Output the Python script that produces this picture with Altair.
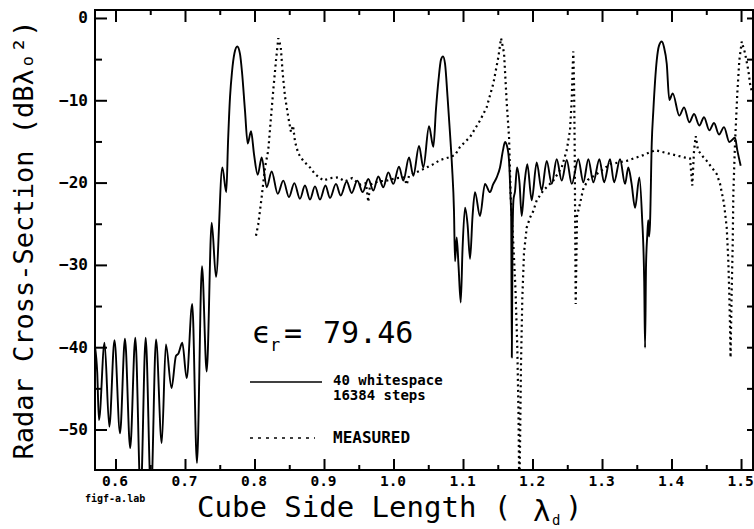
import altair as alt
import pandas as pd

# ---- computed curve: "40 whitespace, 16384 steps" (solid) ----
calc_x = [0.5700, 0.5730, 0.5755, 0.5835, 0.5904, 0.5978, 0.6058, 0.6129, 0.6204, 0.6278,
          0.6355, 0.6427, 0.6504, 0.6576, 0.6658, 0.6718, 0.6799, 0.6863, 0.6899, 0.6954,
          0.7017, 0.7097, 0.7165, 0.7237, 0.7305, 0.7377, 0.7439, 0.7530, 0.7587, 0.7612,
          0.7641, 0.7669, 0.7705, 0.7745, 0.7784, 0.7813, 0.7856, 0.7895, 0.7943, 0.7986,
          0.8039, 0.8097, 0.8168, 0.8240, 0.8327, 0.8407, 0.8489, 0.8566, 0.8647, 0.8719,
          0.8791, 0.8863, 0.8935, 0.9014, 0.9079, 0.9165, 0.9233, 0.9319, 0.9391, 0.9472,
          0.9550, 0.9630, 0.9702, 0.9774, 0.9846, 0.9918, 0.9990, 1.0072, 1.0134, 1.0216,
          1.0278, 1.0360, 1.0422, 1.0504, 1.0566, 1.0604, 1.0640, 1.0676, 1.0705, 1.0734,
          1.0770, 1.0806, 1.0835, 1.0863, 1.0878, 1.0902, 1.0928, 1.0960, 1.0986, 1.1022,
          1.1058, 1.1094, 1.1130, 1.1165, 1.1237, 1.1309, 1.1381, 1.1424, 1.1478, 1.1525,
          1.1568, 1.1597, 1.1626, 1.1655, 1.1676, 1.1686, 1.1695, 1.1705, 1.1719, 1.1741,
          1.1770, 1.1806, 1.1837, 1.1878, 1.1918, 1.1981, 1.2053, 1.2125, 1.2197, 1.2269,
          1.2341, 1.2413, 1.2485, 1.2557, 1.2652, 1.2724, 1.2796, 1.2868, 1.2955, 1.3022,
          1.3108, 1.3166, 1.3252, 1.3324, 1.3371, 1.3417, 1.3468, 1.3530, 1.3568, 1.3600,
          1.3612, 1.3626, 1.3645, 1.3658, 1.3669, 1.3683, 1.3708, 1.3731, 1.3780, 1.3813,
          1.3852, 1.3885, 1.3924, 1.3961, 1.4010, 1.4105, 1.4173, 1.4249, 1.4317, 1.4393,
          1.4460, 1.4537, 1.4604, 1.4676, 1.4748, 1.4824, 1.4906, 1.4939, 1.4988]
calc_y = [-40.0, -43.0, -48.8, -39.4, -49.6, -39.1, -50.4, -38.9, -52.2, -38.8,
          -58.0, -38.8, -58.0, -39.0, -51.6, -39.6, -44.9, -41.0, -40.7, -39.4,
          -43.7, -34.7, -54.0, -30.1, -42.9, -24.8, -31.4, -18.1, -21.1, -15.0,
          -9.5, -6.5, -4.2, -3.4, -4.3, -6.5, -11.2, -15.2, -13.7, -16.5,
          -19.0, -16.9, -20.5, -18.6, -21.3, -19.7, -21.7, -20.0, -21.9, -20.3,
          -22.0, -20.4, -22.0, -20.3, -21.8, -20.1, -21.5, -19.8, -21.2, -19.7,
          -21.1, -19.5, -20.9, -19.2, -20.5, -18.7, -20.1, -18.0, -19.7, -16.9,
          -19.1, -15.5, -18.1, -13.1, -15.6, -11.0, -7.5, -5.0, -4.6, -5.5,
          -9.5, -14.0, -18.0, -23.4, -29.5, -26.6, -30.0, -34.5, -28.0, -23.0,
          -25.0, -29.2, -24.0, -21.1, -24.0, -20.1, -21.1, -20.2, -19.3, -18.1,
          -16.0, -15.0, -15.5, -17.3, -21.5, -24.0, -41.2, -27.0, -22.0, -21.0,
          -18.1, -20.0, -24.0, -20.0, -17.7, -22.1, -17.5, -20.9, -17.3, -20.1,
          -17.1, -19.7, -17.2, -20.1, -17.1, -19.9, -17.1, -19.9, -17.1, -19.9,
          -17.1, -19.9, -17.1, -20.1, -18.1, -20.0, -23.0, -19.3, -24.0, -32.0,
          -40.0, -30.0, -26.2, -24.5, -26.5, -25.0, -15.2, -11.2, -5.1, -3.3,
          -2.8, -3.5, -5.5, -9.9, -9.1, -11.8, -10.8, -12.6, -11.6, -13.0,
          -12.0, -13.6, -12.7, -14.1, -13.2, -15.0, -14.5, -16.0, -17.9]

# ---- measured curve (dotted) ----
meas_x = [0.8014, 0.8047, 0.8096, 0.8144, 0.8191, 0.8226, 0.8263, 0.8302, 0.8335, 0.8370,
          0.8399, 0.8432, 0.8479, 0.8518, 0.8547, 0.8576, 0.8623, 0.8695, 0.8791, 0.8863,
          0.8983, 0.9079, 0.9194, 0.9295, 0.9396, 0.9511, 0.9597, 0.9630, 0.9655, 0.9770,
          0.9895, 1.0029, 1.0144, 1.0183, 1.0216, 1.0374, 1.0566, 1.0662, 1.0781, 1.0878,
          1.0950, 1.1094, 1.1237, 1.1333, 1.1429, 1.1501, 1.1540, 1.1583, 1.1622, 1.1655,
          1.1679, 1.1717, 1.1748, 1.1774, 1.1791, 1.1803, 1.1813, 1.1827, 1.1846, 1.1870,
          1.1909, 1.1957, 1.2004, 1.2053, 1.2148, 1.2292, 1.2413, 1.2485, 1.2532, 1.2557,
          1.2571, 1.2580, 1.2590, 1.2600, 1.2607, 1.2614, 1.2633, 1.2676, 1.2719, 1.2791,
          1.2916, 1.3108, 1.3348, 1.3587, 1.3755, 1.3899, 1.4043, 1.4187, 1.4259, 1.4292,
          1.4317, 1.4341, 1.4374, 1.4446, 1.4499, 1.4571, 1.4643, 1.4691, 1.4748, 1.4787,
          1.4810, 1.4824, 1.4835, 1.4842, 1.4856, 1.4873, 1.4882, 1.4906, 1.4939, 1.4968,
          1.5003, 1.5050, 1.5098, 1.5122, 1.5151]
meas_y = [-26.4, -25.0, -21.7, -18.1, -16.0, -12.4, -8.7, -5.1, -2.4, -3.4,
          -6.7, -9.5, -12.0, -13.8, -13.0, -15.0, -16.4, -17.3, -18.1, -18.9,
          -19.7, -19.4, -19.3, -19.8, -19.4, -20.2, -20.0, -22.3, -20.2, -19.8,
          -19.7, -19.4, -19.3, -20.2, -19.1, -18.5, -17.7, -17.2, -16.9, -16.6,
          -15.6, -14.4, -12.4, -10.8, -7.9, -4.7, -2.4, -4.2, -10.3, -14.4,
          -21.7, -27.4, -33.0, -40.0, -48.0, -58.0, -52.0, -42.0, -34.0, -28.5,
          -25.4, -24.2, -23.4, -22.1, -20.9, -19.7, -18.1, -16.0, -13.6, -9.9,
          -5.9, -4.0, -7.9, -16.0, -26.0, -34.7, -24.0, -22.5, -20.8, -19.6,
          -18.9, -17.7, -17.3, -16.6, -16.0, -16.3, -16.6, -16.9, -17.0, -20.3,
          -16.0, -14.3, -16.0, -16.8, -17.3, -18.1, -18.9, -20.1, -22.5, -25.4,
          -29.5, -33.5, -37.6, -41.2, -34.0, -27.4, -21.3, -15.2, -9.1, -5.1,
          -2.8, -4.2, -6.3, -7.9, -9.0]

# ---- axis ticks ----
x_major = [0.6, 0.7, 0.8, 0.9, 1.0, 1.1, 1.2, 1.3, 1.4, 1.5]
x_minor = [0.65, 0.75, 0.85, 0.95, 1.05, 1.15, 1.25, 1.35, 1.45]
y_major = [0, -10, -20, -30, -40, -50]
y_minor = [-5, -15, -25, -35, -45]
y_right = [0, -5, -10, -15, -20, -25, -30, -35, -40, -45, -50]

# ---- legend samples (data units) ----
leg_solid = {"x": [0.7928], "x2": [0.8964], "y": [-44.17]}
leg_dot = {"x": [0.7928], "x2": [0.8863], "y": [-50.97]}

X_DOMAIN = [0.5698, 1.5165]
Y_DOMAIN = [-54.86, 1.03]
W, H = 658, 460
MONO = "DejaVu Sans Mono"

xs = alt.Scale(domain=X_DOMAIN, nice=False, zero=False)
ys = alt.Scale(domain=Y_DOMAIN, nice=False, zero=False)

calc = pd.DataFrame({"x": calc_x, "y": calc_y})
meas = pd.DataFrame({"x": meas_x, "y": meas_y})

solid = alt.Chart(calc).mark_line(color="black", strokeWidth=1.9, clip=True,
                                  interpolate="monotone", strokeJoin="round").encode(
    x=alt.X("x:Q", scale=xs, axis=None),
    y=alt.Y("y:Q", scale=ys, axis=None),
)
dotted = alt.Chart(meas).mark_line(color="black", strokeWidth=2.2, strokeDash=[2, 3.5],
                                   clip=True).encode(
    x=alt.X("x:Q", scale=xs, axis=None),
    y=alt.Y("y:Q", scale=ys, axis=None),
)


def vticks(vals, y1, y2):
    return alt.Chart(pd.DataFrame({"t": vals})).mark_rule(color="black", strokeWidth=2).encode(
        x=alt.X("t:Q", scale=xs, axis=None), y=alt.value(y1), y2=alt.value(y2))


def hticks(vals, x1, x2):
    return alt.Chart(pd.DataFrame({"t": vals})).mark_rule(color="black", strokeWidth=2).encode(
        y=alt.Y("t:Q", scale=ys, axis=None), x=alt.value(x1), x2=alt.value(x2))


def label(txt, x, y, size, weight="normal", align="left", baseline="alphabetic", angle=0):
    kw = dict(text=txt, font=MONO, fontSize=size, fontWeight=weight, align=align,
              baseline=baseline, color="black")
    if angle:
        kw["angle"] = angle
    return alt.Chart(pd.DataFrame({"a": [0]})).mark_text(**kw).encode(
        x=alt.value(x), y=alt.value(y))


# tick labels drawn from the tick arrays through the scales
xlabels = alt.Chart(pd.DataFrame({"t": x_major})).mark_text(
    font=MONO, fontSize=14.5, fontWeight="bold", align="center", baseline="alphabetic",
    color="black", dx=-1).encode(
    x=alt.X("t:Q", scale=xs, axis=None), y=alt.value(H + 16),
    text=alt.Text("t:Q", format=".1f"))
ylabels = alt.Chart(pd.DataFrame({"t": y_major})).mark_text(
    font=MONO, fontSize=16, fontWeight="bold", align="right", baseline="middle",
    color="black").encode(
    y=alt.Y("t:Q", scale=ys, axis=None), x=alt.value(-7),
    text=alt.Text("t:Q", format="d"))

leg1 = alt.Chart(pd.DataFrame(leg_solid)).mark_rule(color="black", strokeWidth=1.6).encode(
    x=alt.X("x:Q", scale=xs, axis=None), x2="x2:Q", y=alt.Y("y:Q", scale=ys, axis=None))
leg2 = alt.Chart(pd.DataFrame(leg_dot)).mark_rule(color="black", strokeWidth=1.6,
                                                  strokeDash=[3, 5]).encode(
    x=alt.X("x:Q", scale=xs, axis=None), x2="x2:Q", y=alt.Y("y:Q", scale=ys, axis=None))

layers = [
    solid, dotted,
    vticks(x_major, H, H - 11), vticks(x_minor, H, H - 5),
    vticks(x_major, 0, 12), vticks(x_minor, 0, 5),
    hticks(y_major, 0, 12), hticks(y_minor, 0, 7),
    hticks(y_right, W - 6, W),
    xlabels, ylabels,
    leg1, leg2,
    label("40 whitespace", 238, 375, 14, "bold"),
    label("16384 steps", 238, 390, 14, "bold"),
    label("MEASURED", 238, 433, 16, "bold"),
    label("ϵ", 157, 333, 30),
    label("r", 175, 341, 17),
    label("=", 189, 333, 30),
    label("79.46", 228, 333, 30),
    label("Cube Side Length (", 102, 507, 29),
    label("λ", 438, 511, 29),
    label("d", 457, 515, 14),
    label(")", 470, 507, 29),
    label("Radar Cross-Section (dBλₒ²)", -62, 230, 27, align="center", angle=270),
    label("figf-a.lab", -10, 492, 10, "bold"),
]

chart = alt.layer(*layers).properties(
    width=W, height=H,
    autosize=alt.AutoSizeParams(type="none"),
    padding={"left": 95, "top": 10, "right": 1, "bottom": 59},
    background="white",
).configure_view(
    stroke="black", strokeWidth=2
)

chart.save("out.html", embed_options={"renderer": "svg", "actions": False})
